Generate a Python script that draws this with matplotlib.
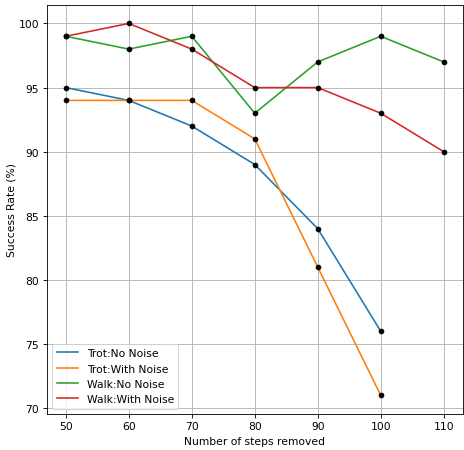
import matplotlib.pyplot as plt

steps = [50, 60, 70, 80, 90, 100, 110]
trot_no_noise = [95, 94, 92, 89, 84, 76]
trot_with_noise = [94, 94, 94, 91, 81, 71]
walk_no_noise = [99, 98, 99, 93, 97, 99, 97]
walk_with_noise = [99, 100, 98, 95, 95, 93, 90]

# original looks like a 6in figure shrunk down, so use a lower dpi
fig, ax = plt.subplots(figsize=(6, 451 / (464 / 6)), dpi=464 / 6)

series = [
    ("Trot:No Noise", steps[:6], trot_no_noise),
    ("Trot:With Noise", steps[:6], trot_with_noise),
    ("Walk:No Noise", steps, walk_no_noise),
    ("Walk:With Noise", steps, walk_with_noise),
]
for label, x, y in series:
    ax.plot(x, y, label=label)
for label, x, y in series:
    ax.scatter(x, y, color="black", s=18, zorder=3)

ax.set_xlabel("Number of steps removed")
ax.set_ylabel("Success Rate (%)", labelpad=2)
ax.set_xticks(steps)
ax.grid(True)
ax.legend(loc="lower left")

fig.subplots_adjust(left=0.101, right=0.997, top=0.987, bottom=0.08)
fig.savefig("out.png")
